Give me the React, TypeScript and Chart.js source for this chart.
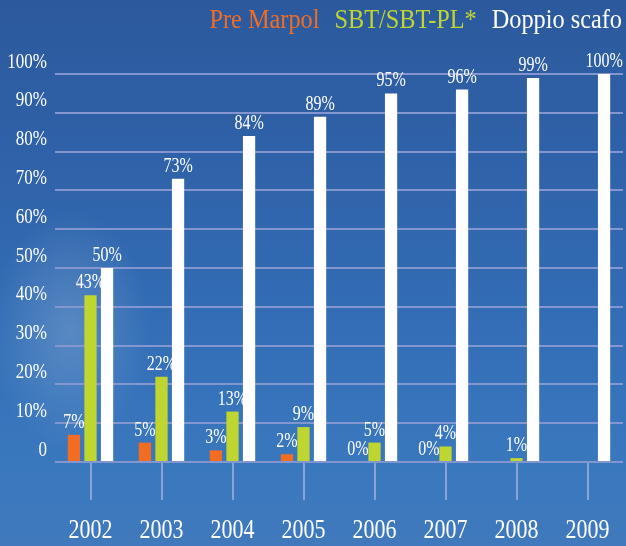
import { useEffect, useRef } from "react";
import { Chart, registerables } from "chart.js";

Chart.register(...registerables);

const years = ["2002", "2003", "2004", "2005", "2006", "2007", "2008", "2009"];
const preMarpol: (number | null)[] = [7, 5, 3, 2, 0, 0, null, null];
const sbt: (number | null)[] = [43, 22, 13, 9, 5, 4, 1, null];
const doppioScafo: (number | null)[] = [50, 73, 84, 89, 95, 96, 99, 100];
const seriesLabels = ["Pre Marpol", "SBT/SBT-PL*", "Doppio scafo"];
const seriesColors = ["#f26d21", "#bed62f", "#ffffff"];
const yMax = 100;
const yStep = 10;

const FONT = '"Liberation Serif", "Times New Roman", serif';

function drawText(
  ctx: CanvasRenderingContext2D,
  text: string,
  x: number,
  y: number,
  size: number,
  color: string,
  align: CanvasTextAlign,
  squeeze: number
) {
  ctx.save();
  ctx.font = `${size}px ${FONT}`;
  ctx.fillStyle = color;
  ctx.textBaseline = "alphabetic";
  ctx.textAlign = align;
  ctx.translate(x, y);
  ctx.scale(squeeze, 1);
  ctx.fillText(text, 0, 0);
  ctx.restore();
}

const textPlugin = {
  id: "textPlugin",
  afterDraw(chart: any) {
    const ctx: CanvasRenderingContext2D = chart.ctx;
    const area = chart.chartArea;
    // data labels
    chart.data.datasets.forEach((ds: any, i: number) => {
      const meta = chart.getDatasetMeta(i);
      meta.data.forEach((bar: any, j: number) => {
        const v = ds.data[j];
        if (v === null || v === undefined) return;
        drawText(ctx, `${v}%`, bar.x, bar.y - 7, 20, "#ffffff", "center", 0.8);
      });
    });
    // y tick labels
    const ys = chart.scales.y;
    ys.ticks.forEach((t: any, i: number) => {
      const py = ys.getPixelForTick(i);
      const label = t.value === 0 ? "0" : `${t.value}%`;
      drawText(ctx, label, area.left - 8, py - 6.5, 20.5, "#ffffff", "right", 0.83);
    });
    // x tick labels
    const xs = chart.scales.x;
    xs.ticks.forEach((t: any, i: number) => {
      const px = xs.getPixelForTick(i);
      drawText(ctx, String(chart.data.labels[i]), px, 538, 26.5, "#ffffff", "center", 0.83);
    });
    // legend
    let x = chart.width - 4;
    const items = chart.data.datasets.map((d: any) => ({ text: d.label, color: d.backgroundColor }));
    for (let k = items.length - 1; k >= 0; k--) {
      ctx.save();
      ctx.font = `27px ${FONT}`;
      const w = ctx.measureText(items[k].text).width * 0.9;
      ctx.restore();
      drawText(ctx, items[k].text, x, 28, 27, items[k].color, "right", 0.9);
      x -= w + 15;
    }
  },
};

export default function App() {
  const ref = useRef<HTMLCanvasElement | null>(null);
  useEffect(() => {
    if (!ref.current) return;
    const gridColor = "#8396d0";
    const chart = new Chart(ref.current, {
      type: "bar",
      data: {
        labels: years,
        datasets: [
          { label: seriesLabels[0], data: preMarpol, backgroundColor: seriesColors[0] },
          { label: seriesLabels[1], data: sbt, backgroundColor: seriesColors[1] },
          { label: seriesLabels[2], data: doppioScafo, backgroundColor: seriesColors[2] },
        ].map((d) => ({ ...d, borderWidth: 0, barPercentage: 0.74, categoryPercentage: 0.7 })),
      },
      options: {
        animation: false,
        responsive: false,
        maintainAspectRatio: false,
        devicePixelRatio: 1,
        layout: { padding: { top: 74, right: 3, left: 0, bottom: 0 } },
        plugins: { legend: { display: false }, tooltip: { enabled: false } },
        scales: {
          x: {
            grid: {
              offset: false,
              drawOnChartArea: false,
              drawTicks: true,
              tickLength: 38,
              color: "#8aa3d6",
              lineWidth: 2,
            },
            border: { display: false },
            ticks: { color: "transparent", font: { size: 22, family: FONT } },
            afterFit(scale: any) {
              scale.height = 84;
            },
          },
          y: {
            min: 0,
            max: yMax,
            ticks: { stepSize: yStep, color: "transparent", padding: 8, font: { size: 18, family: FONT } },
            grid: { color: gridColor, lineWidth: 2, drawTicks: false },
            border: { display: false },
            afterFit(scale: any) {
              scale.width = 55;
            },
          },
        },
      },
      plugins: [textPlugin],
    } as any);
    return () => chart.destroy();
  }, []);
  return (
    <div
      style={{
        position: "absolute",
        left: 0,
        top: 0,
        width: 626,
        height: 546,
        background:
          "radial-gradient(ellipse 80px 120px at 70px 330px, rgba(175,200,225,0.3), rgba(175,200,225,0) 100%), linear-gradient(180deg, #2c599d 0%, #2f62a9 30%, #336eb6 60%, #3a78be 85%, #4079bc 100%)",
      }}
    >
      <canvas ref={ref} width={626} height={546} style={{ display: "block" }} />
    </div>
  );
}
